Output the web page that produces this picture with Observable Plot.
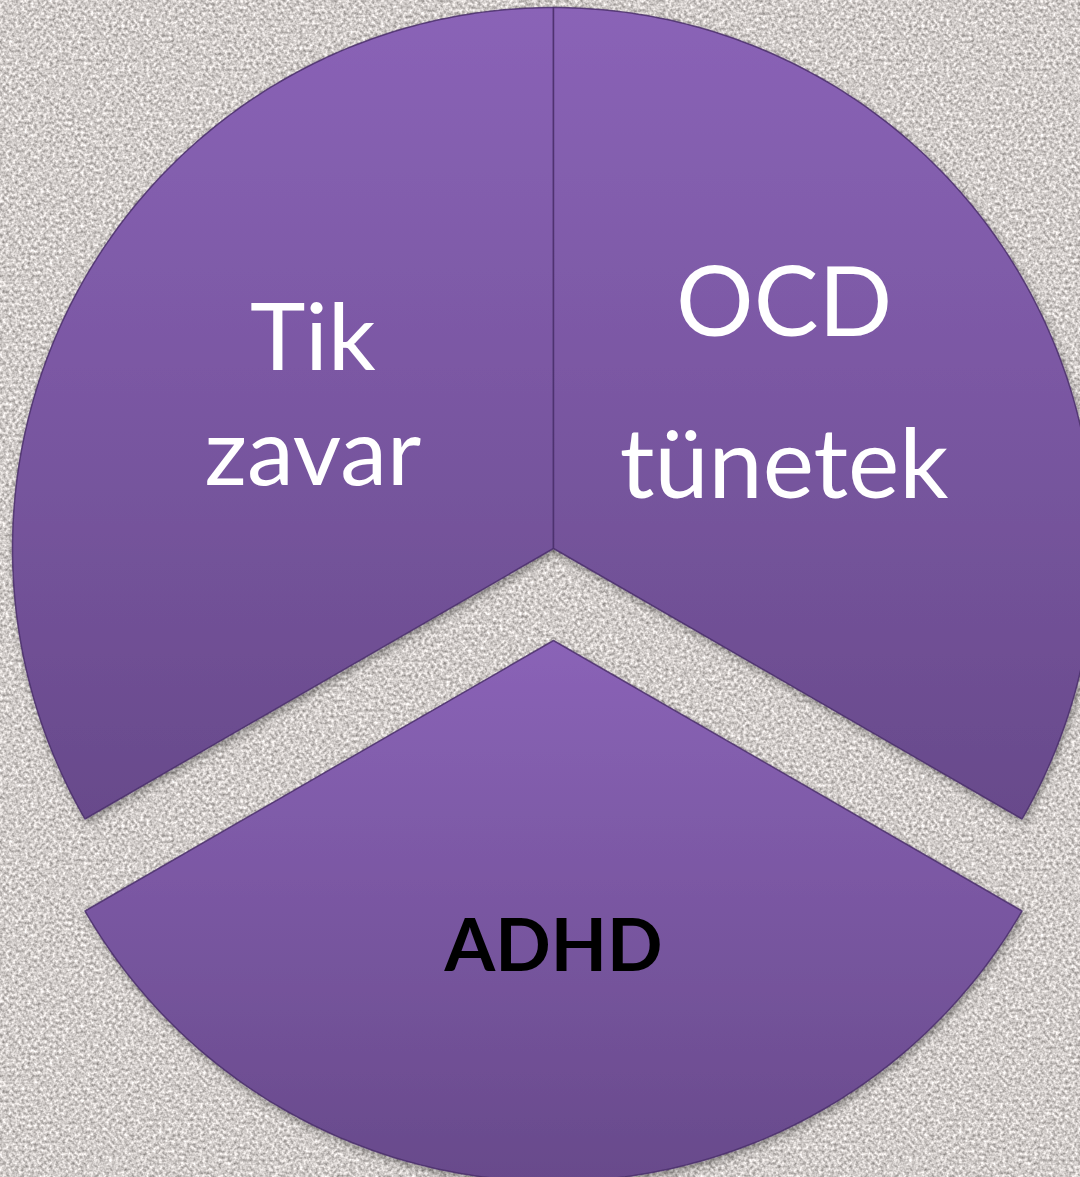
<!DOCTYPE html>
<html><head><meta charset="utf-8">
<script src="https://cdn.jsdelivr.net/npm/d3@7"></script>
<script src="https://cdn.jsdelivr.net/npm/@observablehq/plot@0.6"></script>
<style>html,body{margin:0;padding:0;background:#cdc8c4;overflow:hidden}</style>
</head><body><div id="chart"></div>
<script>
// ---- data ----
const categories = ["Tik zavar", "OCD tünetek", "ADHD"];
const values = [1, 1, 1];
const labels = ["Tik\nzavar", "OCD\ntünetek", "ADHD"];
const explodedCategory = "ADHD";

// ---- layout ----
const W = 1080, H = 1177;
const CX = 553, CY = 548, R = 541;
const EXPLODE = 92 / R;
const LABEL_R = 0.52;

const pie = d3.pie().sort(null).value(d => d.value)
  .startAngle(-2 * Math.PI / 3).endAngle(4 * Math.PI / 3);
const arcs = pie(categories.map((c, i) => ({category: c, value: values[i], label: labels[i]})));

const pts = [];
const labelPts = [];
arcs.forEach(a => {
  const category = a.data.category;
  const mid = (a.startAngle + a.endAngle) / 2;
  const off = category === explodedCategory ? EXPLODE : 0;
  const ox = off * Math.sin(mid), oy = off * Math.cos(mid);
  pts.push({category, x: ox, y: oy});
  const n = 160;
  for (let k = 0; k <= n; k++) {
    const t = a.startAngle + (a.endAngle - a.startAngle) * k / n;
    pts.push({category, x: ox + Math.sin(t), y: oy + Math.cos(t)});
  }
  pts.push({category, x: ox, y: oy});
  labelPts.push({category, label: a.data.label, x: ox + LABEL_R * Math.sin(mid), y: oy + LABEL_R * Math.cos(mid)});
});

const font = "Lato, 'Open Sans', sans-serif";
const plot = Plot.plot({
  width: W, height: H, margin: 0,
  x: {domain: [-CX / R, (W - CX) / R], axis: null},
  y: {domain: [-(H - CY) / R, CY / R], axis: null},
  style: {background: "transparent", overflow: "hidden"},
  marks: [
    Plot.line(pts, {x: "x", y: "y", z: "category", fill: "url(#sliceGrad)", stroke: "#4a2f6b",
      strokeWidth: 1.5, strokeOpacity: 0.85, curve: "linear"}),
    Plot.text(labelPts.filter(d => d.category === "Tik zavar"), {x: "x", y: "y", text: "label",
      fill: "white", fontSize: 94, fontFamily: font, lineHeight: 1.22, dx: 3, dy: -17}),
    Plot.text(labelPts.filter(d => d.category === "OCD tünetek"), {x: "x", y: "y", text: "label",
      fill: "white", fontSize: 97, fontFamily: font, lineHeight: 1.68, dx: -13, dy: -43}),
    Plot.text(labelPts.filter(d => d.category === "ADHD"), {x: "x", y: "y", text: "label",
      fill: "black", fontSize: 73, fontWeight: "bold", fontFamily: font, dy: 26})
  ]
});

const ns = "http://www.w3.org/2000/svg";
const defs = document.createElementNS(ns, "defs");
defs.innerHTML = `
  <linearGradient id="sliceGrad" x1="0" y1="0" x2="0" y2="1">
    <stop offset="0" stop-color="#8a63b7"/>
    <stop offset="1" stop-color="#684a8b"/>
  </linearGradient>
  <filter id="noise" x="0" y="0" width="100%" height="100%" color-interpolation-filters="sRGB">
    <feTurbulence type="fractalNoise" baseFrequency="0.32" numOctaves="2" seed="7" result="t"/>
    <feColorMatrix in="t" type="matrix" values="0.7 0 0 0 0.47  0.7 0 0 0 0.45  0.7 0 0 0 0.44  0 0 0 0 1"/>
  </filter>
  <filter id="shadow" x="-10%" y="-10%" width="120%" height="120%">
    <feDropShadow dx="2" dy="4" stdDeviation="4" flood-color="#000" flood-opacity="0.35"/>
  </filter>`;
plot.insertBefore(defs, plot.firstChild);
const bg = document.createElementNS(ns, "rect");
bg.setAttribute("width", W); bg.setAttribute("height", H);
bg.setAttribute("filter", "url(#noise)");
plot.insertBefore(bg, defs.nextSibling);
const lineGroup = plot.querySelector('g[aria-label="line"]');
if (lineGroup) lineGroup.setAttribute("filter", "url(#shadow)");
document.getElementById("chart").appendChild(plot);
</script></body></html>
